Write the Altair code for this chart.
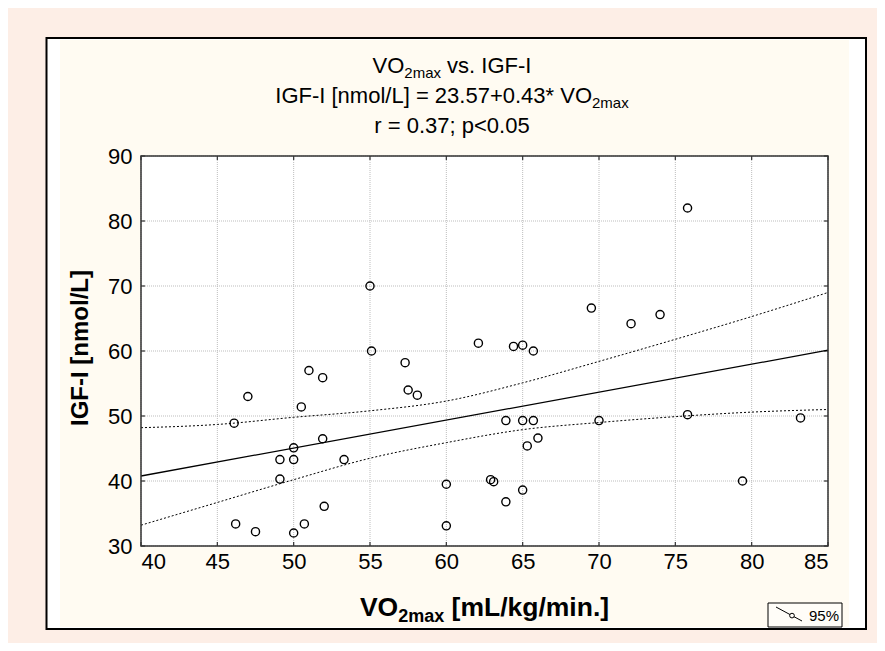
import altair as alt
import pandas as pd

# ---------------- data ----------------
vo2 = [55.0, 55.1, 62.1, 51.0, 51.9, 57.3, 57.5, 58.1, 47.0, 75.8, 69.5, 72.1,
       74.0, 64.4, 65.0, 65.7, 50.5, 46.1, 51.9, 50.0, 49.1, 50.0, 53.3, 49.1,
       60.0, 62.9, 63.1, 52.0, 46.2, 47.5, 50.0, 50.7, 60.0, 63.9, 65.0, 65.7,
       70.0, 75.8, 83.2, 66.0, 65.3, 65.0, 63.9, 79.4]
igf = [70.0, 60.0, 61.2, 57.0, 55.9, 58.2, 54.0, 53.2, 53.0, 82.0, 66.6, 64.2,
       65.6, 60.7, 60.9, 60.0, 51.4, 48.9, 46.5, 45.1, 43.3, 43.3, 43.3, 40.3,
       39.5, 40.2, 39.9, 36.1, 33.4, 32.2, 32.0, 33.4, 33.1, 49.3, 49.3, 49.3,
       49.3, 50.2, 49.7, 46.6, 45.4, 38.6, 36.8, 40.0]

reg_x = [40, 85]
reg_y = [40.77, 60.12]

ci_x = [40, 45, 50, 55, 60, 65, 70, 75, 80, 85]
ci_upper = [48.2, 48.7, 49.8, 50.8, 52.3, 55.1, 58.4, 61.8, 65.3, 69.0]
ci_lower = [33.2, 36.7, 40.2, 43.5, 45.9, 47.9, 49.0, 49.9, 50.6, 51.0]

x_ticks = [40, 45, 50, 55, 60, 65, 70, 75, 80, 85]
y_ticks = [30, 40, 50, 60, 70, 80, 90]

title_1 = [("VO", "n"), ("2max", "s"), (" vs. IGF-I", "n")]
title_2 = [("IGF-I [nmol/L] = 23.57+0.43* VO", "n"), ("2max", "s")]
title_3 = [("r = 0.37; p<0.05", "n")]
x_title = [("VO", "n"), ("2max", "s"), (" [mL/kg/min.]", "n")]
y_title = "IGF-I [nmol/L]"
legend_label = "95%"

# ---------------- layout ----------------
FONT = "Liberation Sans"
W, H = 687, 390
OX, OY = 141, 156          # page position of plot origin
PINK = "#fdeee6"
CREAM = "#fffbf2"

REG = {' ': 278, '*': 389, '+': 584, '-': 333, '.': 278, '/': 278, ';': 278,
       '<': 584, '=': 584, 'F': 611, 'G': 778, 'I': 278, 'L': 556, 'O': 778,
       'V': 667, '[': 278, ']': 278, 'a': 556, 'e': 556, 'g': 556, 'i': 222,
       'k': 500, 'l': 222, 'm': 833, 'n': 556, 'o': 556, 'p': 556, 'r': 333,
       's': 500, 'v': 500, 'x': 500}
BOLD = {' ': 278, '.': 278, '/': 278, 'L': 611, 'O': 778, 'V': 667, '[': 333,
        ']': 333, 'a': 556, 'g': 611, 'i': 278, 'k': 556, 'm': 889, 'n': 611,
        'x': 556}


def tw(s, size, bold=False):
    tab = BOLD if bold else REG
    return sum(tab.get(c, 556) for c in s) * size / 1000.0


one = pd.DataFrame({"k": [0]})


def txt(s, px, py, size, bold=False, align="left", angle=0, baseline="alphabetic"):
    kw = dict(text=s, align=align, baseline=baseline, fontSize=size,
              fontWeight="bold" if bold else "normal", font=FONT, color="black")
    if angle:
        kw["angle"] = angle
    return alt.Chart(one).mark_text(**kw).encode(
        x=alt.value(px - OX), y=alt.value(py - OY))


def rich(pieces, cx, base, size, sub, sub_dy, bold=False):
    total = sum(tw(t, size if k == "n" else sub, bold) for t, k in pieces)
    x = cx - total / 2
    out = []
    for t, k in pieces:
        s = size if k == "n" else sub
        lead = len(t) - len(t.lstrip(" "))
        shown = t.lstrip(" ")
        out.append(txt(shown, x + tw(" " * lead, s, bold),
                       base + (0 if k == "n" else sub_dy), s, bold))
        x += tw(t, s, bold)
    return out


def box(x1, y1, x2, y2, **kw):
    return alt.Chart(one).mark_rect(**kw).encode(
        x=alt.value(x1 - OX), x2=alt.value(x2 - OX),
        y=alt.value(y1 - OY), y2=alt.value(y2 - OY))


xs = alt.Scale(domain=[40, 85], nice=False, zero=False)
ys = alt.Scale(domain=[30, 90], nice=False, zero=False)
xax = alt.Axis(values=x_ticks, grid=False, domain=False, ticks=False, title=None,
               labelFontSize=22, labelFont=FONT, labelColor="black",
               labelPadding=5, zindex=1)
yax = alt.Axis(values=y_ticks, grid=False, domain=False, ticks=False, title=None,
               labelFontSize=22, labelFont=FONT, labelColor="black",
               labelPadding=9, zindex=1)

pts = pd.DataFrame({"vo2": vo2, "igf": igf})
reg = pd.DataFrame({"x": reg_x, "y": reg_y})
ci = pd.DataFrame({"x": ci_x, "up": ci_upper, "lo": ci_lower})
xt = pd.DataFrame({"v": x_ticks})
yt = pd.DataFrame({"v": y_ticks})

layers = []
layers.append(box(46.5, 38, 866, 629, fill="white", stroke="black", strokeWidth=2))
layers.append(box(60, 40, 849, 627, fill=CREAM))
layers.append(box(OX, OY, OX + W, OY + H, fill="white"))

# grid
layers.append(alt.Chart(xt).mark_rule(color="#bdbdbd", strokeWidth=1, strokeDash=[1, 1]).encode(
    x=alt.X("v:Q", scale=xs, axis=xax), y=alt.value(0), y2=alt.value(H)))
layers.append(alt.Chart(yt).mark_rule(color="#bdbdbd", strokeWidth=1, strokeDash=[1, 1]).encode(
    y=alt.Y("v:Q", scale=ys, axis=yax), x=alt.value(0), x2=alt.value(W)))

# inward ticks on all four sides
tk = dict(color="#333333", strokeWidth=1.2)
layers.append(alt.Chart(xt).mark_rule(**tk).encode(
    x=alt.X("v:Q", scale=xs), y=alt.value(H), y2=alt.value(H - 4)))
layers.append(alt.Chart(xt).mark_rule(**tk).encode(
    x=alt.X("v:Q", scale=xs), y=alt.value(0), y2=alt.value(4)))
layers.append(alt.Chart(yt).mark_rule(**tk).encode(
    y=alt.Y("v:Q", scale=ys), x=alt.value(0), x2=alt.value(4)))
layers.append(alt.Chart(yt).mark_rule(**tk).encode(
    y=alt.Y("v:Q", scale=ys), x=alt.value(W), x2=alt.value(W - 4)))

# confidence band and regression line
layers.append(alt.Chart(ci).mark_line(color="black", strokeWidth=1, strokeDash=[2, 2],
                                      interpolate="monotone").encode(
    x=alt.X("x:Q", scale=xs), y=alt.Y("up:Q", scale=ys)))
layers.append(alt.Chart(ci).mark_line(color="black", strokeWidth=1, strokeDash=[2, 2],
                                      interpolate="monotone").encode(
    x=alt.X("x:Q", scale=xs), y=alt.Y("lo:Q", scale=ys)))
layers.append(alt.Chart(reg).mark_line(color="black", strokeWidth=1.3).encode(
    x=alt.X("x:Q", scale=xs), y=alt.Y("y:Q", scale=ys)))

# points
layers.append(alt.Chart(pts).mark_point(shape="circle", filled=False, color="black",
                                        strokeWidth=1.4, size=66, opacity=1).encode(
    x=alt.X("vo2:Q", scale=xs), y=alt.Y("igf:Q", scale=ys)))

# frame
layers.append(box(OX, OY, OX + W, OY + H, fill="transparent", stroke="#333333",
                  strokeWidth=1.5))

# titles
layers += rich(title_1, 452, 73, 22, 15, 5)
layers += rich(title_2, 452, 103, 22, 15, 5)
layers += rich(title_3, 452, 133, 22, 15, 5)
layers += rich(x_title, OX + W / 2, 616, 26.5, 18, 6, bold=True)
layers.append(txt(y_title, 81, 348, 24, bold=True, align="center",
                  angle=270, baseline="middle"))

# legend box
layers.append(box(768, 603, 842, 627, fill="#fffdf8", stroke="black", strokeWidth=1))
layers.append(alt.Chart(one).mark_rule(color="black", strokeWidth=1).encode(
    x=alt.value(776 - OX), x2=alt.value(802 - OX),
    y=alt.value(607 - OY), y2=alt.value(621 - OY)))
layers.append(alt.Chart(one).mark_point(shape="circle", filled=True, fill="#fffdf8",
                                        stroke="black", strokeWidth=1, size=22, opacity=1).encode(
    x=alt.value(792 - OX), y=alt.value(615.6 - OY)))
layers.append(txt(legend_label, 809, 621, 15))

chart = alt.layer(*layers).properties(
    width=W, height=H,
    autosize=alt.AutoSizeParams(type="none"),
    padding={"left": OX - 8, "top": OY - 8, "right": 869 - (OX - 8) - W,
             "bottom": 635 - (OY - 8) - H},
    background=PINK,
).configure_view(strokeWidth=0)

chart.save("out.html", embed_options={"renderer": "svg", "actions": False})
